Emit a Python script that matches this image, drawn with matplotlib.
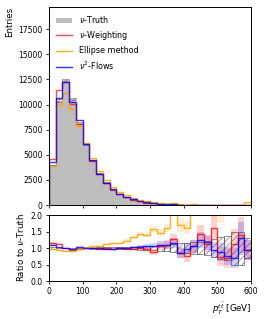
import numpy as np
import matplotlib
matplotlib.use("Agg")
import matplotlib.pyplot as plt
from matplotlib.patches import Patch
from matplotlib.lines import Line2D

# ---------------- data ----------------
bin_edges = np.arange(0, 601, 20)

truth = [3950, 10400, 12400, 10550, 8200, 6050, 4450, 3150, 2250, 1600,
         1120, 800, 560, 390, 270, 190, 135, 95, 68, 50,
         36, 27, 20, 15, 11, 8, 6, 4, 4, 11]
nu_weighting = [4600, 11450, 12250, 10050, 8050, 6100, 4400, 3050, 2230, 1550,
                1120, 780, 550, 390, 260, 170, 140, 105, 85, 43,
                27, 28, 28, 17, 18, 6, 4, 5, 6, 10]
ellipse = [3900, 9950, 11150, 9550, 7900, 6150, 4650, 3350, 2500, 1850,
           1300, 980, 740, 550, 380, 300, 200, 150, 170, 85,
           58, 70, 56, 36, 25, 17, 16, 12, 10, 300]
nu2flows = [4300, 10700, 12250, 10300, 8450, 6100, 4450, 3100, 2200, 1570,
            1120, 800, 570, 400, 285, 205, 150, 103, 78, 43,
            35, 28, 25, 18, 10, 7, 5, 3, 5, 10]

# ratios to truth
ratio_red = [1.16, 1.11, 0.99, 0.95, 0.98, 1.01, 0.99, 0.96, 0.99, 0.97,
             1.00, 0.97, 0.98, 1.00, 0.96, 0.88, 1.05, 1.10, 1.26, 0.86,
             0.75, 1.05, 1.42, 1.12, 1.62, 0.74, 0.70, 1.12, 1.40, 0.93]
ratio_orange = [0.98, 0.95, 0.90, 0.90, 0.96, 1.01, 1.05, 1.06, 1.12, 1.15,
                1.16, 1.22, 1.32, 1.42, 1.40, 1.58, 1.47, 1.60, 2.50, 1.70,
                1.62, 2.60, 2.80, 2.40, 2.30, 2.10, 2.70, 3.00, 2.60, 27.0]
ratio_blue = [1.09, 1.03, 0.99, 0.97, 1.04, 1.01, 1.00, 0.99, 0.97, 0.98,
              1.00, 1.00, 1.02, 1.02, 1.05, 1.07, 1.10, 1.08, 1.15, 0.85,
              0.98, 1.05, 1.25, 1.17, 0.94, 0.89, 0.76, 0.70, 1.29, 0.94]

# relative uncertainties (half widths)
err_truth = [0.016, 0.010, 0.009, 0.010, 0.011, 0.013, 0.015, 0.018, 0.021, 0.025,
             0.030, 0.035, 0.042, 0.050, 0.060, 0.073, 0.086, 0.100, 0.120, 0.140,
             0.150, 0.170, 0.190, 0.220, 0.270, 0.330, 0.370, 0.500, 0.500, 0.300]
err_red = [0.020, 0.015, 0.012, 0.013, 0.015, 0.018, 0.020, 0.025, 0.030, 0.035,
           0.040, 0.045, 0.055, 0.065, 0.075, 0.085, 0.110, 0.130, 0.170, 0.160,
           0.170, 0.200, 0.280, 0.250, 0.350, 0.280, 0.300, 0.450, 0.550, 0.300]
err_orange = [0.016, 0.010, 0.009, 0.010, 0.011, 0.013, 0.016, 0.020, 0.024, 0.030,
              0.035, 0.040, 0.050, 0.060, 0.070, 0.080, 0.100, 0.120, 0.250, 0.200,
              0.200, 0.300, 0.350, 0.350, 0.350, 0.350, 0.400, 0.500, 0.500, 5.0]
err_blue = [0.018, 0.012, 0.010, 0.011, 0.013, 0.015, 0.018, 0.022, 0.027, 0.032,
            0.038, 0.043, 0.050, 0.060, 0.070, 0.080, 0.100, 0.120, 0.150, 0.140,
            0.160, 0.190, 0.240, 0.220, 0.250, 0.270, 0.280, 0.300, 0.500, 0.300]

labels = [r"$\nu$-Truth", r"$\nu$-Weighting", "Ellipse method", r"$\nu^2$-Flows"]
x_ticks = [0, 100, 200, 300, 400, 500, 600]
y_ticks_main = [0, 2500, 5000, 7500, 10000, 12500, 15000, 17500]
y_ticks_ratio = [0.0, 0.5, 1.0, 1.5, 2.0]

# ---------------- style ----------------
plt.rcParams['font.family'] = ['DejaVu Sans']
plt.rcParams['hatch.linewidth'] = 0.5
plt.rcParams['axes.linewidth'] = 0.7
fs_tick = 5.5
fs_lab = 6.2

C_TRUTH = '#bdbdbd'
C_RED = 'red'
C_ORANGE = 'orange'
C_BLUE = 'blue'

fig = plt.figure(figsize=(2.66, 3.19), dpi=100)
ax = fig.add_axes([0.184, 0.357, 0.760, 0.621])
axr = fig.add_axes([0.184, 0.119, 0.760, 0.207])

edges = bin_edges
centers = (edges[:-1] + edges[1:]) / 2
width = np.diff(edges)

# ---- main panel ----
t = np.array(truth, float)
ax.stairs(t, edges, fill=True, color=C_TRUTH, lw=0)
et = t * np.array(err_truth)
ax.bar(centers, 2 * et, bottom=t - et, width=width, fill=False,
       hatch='/////', edgecolor='#666666', lw=0.5, alpha=0.8)
ax.stairs(nu_weighting, edges, color=C_RED, lw=1.0, alpha=0.7)
ax.stairs(ellipse, edges, color=C_ORANGE, lw=1.0, alpha=0.9)
ax.stairs(nu2flows, edges, color=C_BLUE, lw=1.0, alpha=0.8)

ax.set_xlim(0, 600)
ax.set_ylim(0, 19700)
ax.set_xticks(x_ticks)
ax.set_xticklabels([])
ax.set_yticks(y_ticks_main)
ax.tick_params(labelsize=fs_tick, length=2.5, width=0.6, pad=2)
ax.set_ylabel("Entries", fontsize=fs_lab, loc='top', labelpad=3)

handles = [Patch(facecolor=C_TRUTH, edgecolor='none'),
           Line2D([], [], color=C_RED, lw=1.0, alpha=0.7),
           Line2D([], [], color=C_ORANGE, lw=1.0, alpha=0.9),
           Line2D([], [], color=C_BLUE, lw=1.0, alpha=0.8)]
ax.legend(handles, labels, loc='upper left', frameon=False, fontsize=5.8)

# ---- ratio panel ----
one = np.ones(len(centers))
errt = np.array(err_truth)
axr.bar(centers, 2 * errt, bottom=one - errt, width=width, fill=False,
        hatch='/////', edgecolor='#555555', lw=0.6, alpha=0.75)

for r, e, c in [(ratio_red, err_red, C_RED),
                (ratio_orange, err_orange, C_ORANGE),
                (ratio_blue, err_blue, C_BLUE)]:
    r = np.array(r)
    e = np.array(e)
    axr.stairs(r + e, edges, baseline=r - e, fill=True, color=c, alpha=0.18, lw=0)

axr.stairs(ratio_red, edges, baseline=None, color=C_RED, lw=1.0, alpha=0.8)
axr.stairs(ratio_orange, edges, baseline=None, color=C_ORANGE, lw=1.0, alpha=0.9)
axr.stairs(ratio_blue, edges, baseline=None, color=C_BLUE, lw=1.0, alpha=0.8)

axr.set_xlim(0, 600)
axr.set_ylim(0, 2)
axr.set_xticks(x_ticks)
axr.set_yticks(y_ticks_ratio)
axr.tick_params(labelsize=fs_tick, length=2.5, width=0.6, pad=2)
axr.set_ylabel(r"Ratio to $\nu$-Truth", fontsize=fs_lab, labelpad=3)
axr.set_xlabel(r"$p_T^{t\bar{t}}$ [GeV]", fontsize=fs_lab, loc='right', labelpad=3)

fig.savefig("out.png", dpi=100)
